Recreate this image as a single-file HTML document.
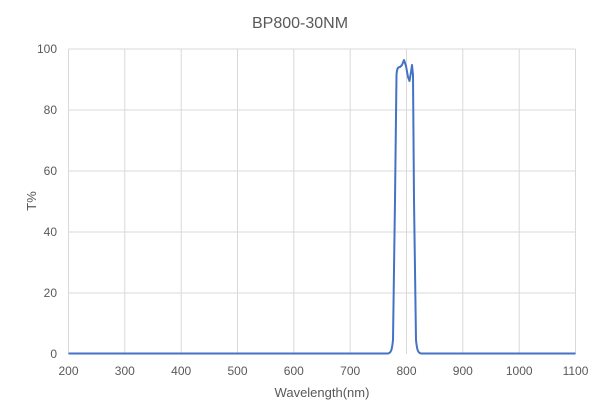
<!DOCTYPE html>
<html><head><style>body{margin:0;background:#fff}svg{display:block}text{font-family:"Liberation Sans",sans-serif;fill:#595959}</style></head><body>
<svg width="601" height="406" viewBox="0 0 601 406" xmlns="http://www.w3.org/2000/svg">
<text x="300" y="28" font-size="16" text-anchor="middle">BP800-30NM</text>
<g stroke="#d9d9d9" stroke-width="1">
<line x1="68.5" y1="49" x2="575.5" y2="49"/><line x1="68.5" y1="110" x2="575.5" y2="110"/><line x1="68.5" y1="171" x2="575.5" y2="171"/><line x1="68.5" y1="232" x2="575.5" y2="232"/><line x1="68.5" y1="293" x2="575.5" y2="293"/>
<line x1="68.5" y1="49" x2="68.5" y2="354"/><line x1="124.8" y1="49" x2="124.8" y2="354"/><line x1="181.2" y1="49" x2="181.2" y2="354"/><line x1="237.5" y1="49" x2="237.5" y2="354"/><line x1="293.8" y1="49" x2="293.8" y2="354"/><line x1="350.2" y1="49" x2="350.2" y2="354"/><line x1="406.5" y1="49" x2="406.5" y2="354"/><line x1="462.8" y1="49" x2="462.8" y2="354"/><line x1="519.2" y1="49" x2="519.2" y2="354"/><line x1="575.5" y1="49" x2="575.5" y2="354"/>
</g>
<g font-size="12" text-anchor="end">
<text x="57" y="358">0</text><text x="57" y="297">20</text><text x="57" y="236">40</text><text x="57" y="175">60</text><text x="57" y="114">80</text><text x="57" y="53">100</text>
</g>
<g font-size="12" text-anchor="middle">
<text x="68.5" y="375">200</text><text x="124.8" y="375">300</text><text x="181.2" y="375">400</text><text x="237.5" y="375">500</text><text x="293.8" y="375">600</text><text x="350.2" y="375">700</text><text x="406.5" y="375">800</text><text x="462.8" y="375">900</text><text x="519.2" y="375">1000</text><text x="575.5" y="375">1100</text>
</g>
<text x="322" y="397" font-size="13" text-anchor="middle">Wavelength(nm)</text>
<text transform="translate(36,201) rotate(-90)" font-size="13" text-anchor="middle">T%</text>
<path d="M68.5 353.5 L388 353.5 C391 353 392 350 393 340 L395 200 L396.5 75 C397 68 398 67 400 67 L402 65 L404 60 L406 66 L408 77 L409.5 81 L411 72 L412 65 L413 75 L414 200 L416 340 C417 350 418 353 421 353.5 L575.5 353.5" fill="none" stroke="#4472c4" stroke-width="2" stroke-linejoin="round"/>
</svg>
</body></html>
